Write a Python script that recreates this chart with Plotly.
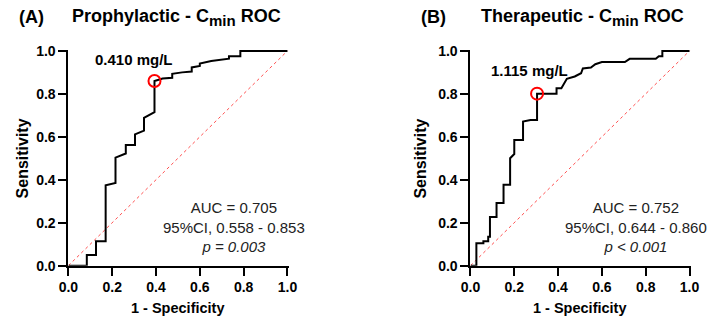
import plotly.graph_objects as go

# ---- data ----
fpr_a = [0, 0.084, 0.084, 0.126, 0.126, 0.17, 0.17, 0.215, 0.215, 0.262, 0.262, 0.304, 0.304,
         0.345, 0.345, 0.393, 0.393, 0.43, 0.474, 0.474, 0.519, 0.563, 0.563, 0.6, 0.6, 0.652,
         0.733, 0.733, 0.785, 0.785, 1.0]
tpr_a = [0, 0, 0.05, 0.05, 0.113, 0.113, 0.374, 0.385, 0.503, 0.522, 0.562, 0.562, 0.611,
         0.629, 0.688, 0.715, 0.86, 0.871, 0.875, 0.893, 0.9, 0.904, 0.923, 0.93, 0.941, 0.953,
         0.964, 0.975, 0.975, 1.0, 1.0]
cut_a = (0.393, 0.86)

fpr_b = [0, 0.027, 0.027, 0.059, 0.059, 0.081, 0.081, 0.089, 0.089, 0.119, 0.119, 0.151, 0.151,
         0.181, 0.181, 0.2, 0.2, 0.24, 0.24, 0.274, 0.304, 0.304, 0.393, 0.393, 0.415, 0.44,
         0.476, 0.505, 0.513, 0.55, 0.57, 0.6, 0.705, 0.727, 0.846, 0.86, 0.876, 0.876, 1.0]
tpr_b = [0, 0, 0.104, 0.104, 0.114, 0.114, 0.134, 0.134, 0.226, 0.226, 0.292, 0.292, 0.377,
         0.377, 0.5, 0.52, 0.585, 0.585, 0.671, 0.678, 0.678, 0.801, 0.801, 0.826, 0.826, 0.87,
         0.881, 0.896, 0.918, 0.923, 0.938, 0.948, 0.948, 0.963, 0.963, 0.975, 0.975, 1.0, 1.0]
cut_b = (0.304, 0.801)

ref_line = [0, 1]
tick_vals = [0, 0.2, 0.4, 0.6, 0.8, 1.0]
tick_text = ["0.0", "0.2", "0.4", "0.6", "0.8", "1.0"]

panels = [
    dict(letter="(A)", title="Prophylactic - C<sub><span style='font-size:15px'>min</span></sub> ROC",
         cutlabel="0.410 mg/L",
         stats="AUC = 0.705<br>95%CI, 0.558 - 0.853<br><i>p = 0.003</i>"),
    dict(letter="(B)", title="Therapeutic - C<sub><span style='font-size:15px'>min</span></sub> ROC",
         cutlabel="1.115 mg/L",
         stats="AUC = 0.752<br>95%CI, 0.644 - 0.860<br><i>p &lt; 0.001</i>"),
]

W, H = 717, 329
FONT = "Liberation Sans, Arial, sans-serif"

fig = go.Figure()

curves = [(fpr_a, tpr_a, cut_a), (fpr_b, tpr_b, cut_b)]
left_px = [60, 473]
scale = 225.0
top_ext = 1.006
bottom_px = 271

for i, (fx, ty, cut) in enumerate(curves):
    xa = "x" if i == 0 else "x2"
    ya = "y" if i == 0 else "y2"
    fig.add_trace(go.Scatter(x=ref_line, y=ref_line, mode="lines", xaxis=xa, yaxis=ya,
                             line=dict(color="rgba(255,60,60,0.9)", width=1, dash="dot"),
                             showlegend=False, hoverinfo="skip"))
    fig.add_trace(go.Scatter(x=fx, y=ty, mode="lines", xaxis=xa, yaxis=ya,
                             line=dict(color="black", width=2), showlegend=False))
    fig.add_trace(go.Scatter(x=[cut[0]], y=[cut[1]], mode="markers", xaxis=xa, yaxis=ya,
                             marker=dict(symbol="circle-open", size=12, color="red",
                                         line=dict(color="red", width=2)),
                             showlegend=False, cliponaxis=False))

axis_common = dict(range=[0, top_ext], tickvals=tick_vals, ticktext=tick_text,
                   showline=True, linecolor="black", linewidth=2, ticks="outside",
                   ticklen=8, tickwidth=2, tickcolor="black", showgrid=False, zeroline=False,
                   tickfont=dict(family=FONT, size=14, color="black", weight="bold"),
                   fixedrange=True)

for i in range(2):
    x0 = left_px[i]
    xd = [x0 / W, (x0 + scale * top_ext) / W]
    yd = [(H - bottom_px) / H, (H - bottom_px + scale * top_ext) / H]
    sfx = "" if i == 0 else "2"
    fig.layout["xaxis" + sfx] = dict(axis_common, domain=xd, anchor="y" + sfx)
    fig.layout["yaxis" + sfx] = dict(axis_common, domain=yd, anchor="x" + sfx)

ann = []
centers = [(60 + 285) / 2, (473 + 698) / 2]
for i, p in enumerate(panels):
    xr = "x" if i == 0 else "x2"
    yr = "y" if i == 0 else "y2"
    cx = centers[i]
    # panel letter
    ann.append(dict(text="<b>" + p["letter"] + "</b>", x=(22.5 if i == 0 else 435.5) / W,
                    y=1 - 10 / H, xref="paper", yref="paper", showarrow=False,
                    xanchor="center", yanchor="middle",
                    font=dict(family=FONT, size=18, color="black")))
    # title
    ann.append(dict(text="<b>" + p["title"] + "</b>", x=(171.5 if i == 0 else 588.5) / W,
                    y=1 - 11 / H, xref="paper", yref="paper", showarrow=False,
                    xanchor="center", yanchor="middle",
                    font=dict(family=FONT, size=18, color="black")))
    # cutoff label
    lab_xy = [(0.298, 0.96), (0.271, 0.907)][i]
    ann.append(dict(text="<b>" + p["cutlabel"] + "</b>", x=lab_xy[0], y=lab_xy[1],
                    xref=xr, yref=yr, showarrow=False, xanchor="center", yanchor="middle",
                    font=dict(family=FONT, size=15, color="black")))
    # stats
    ann.append(dict(text=p["stats"], x=0.756, y=0.182, xref=xr, yref=yr, showarrow=False,
                    xanchor="center", yanchor="middle", align="center",
                    font=dict(family=FONT, size=15, color="#222222")))
    # axis titles
    ann.append(dict(text="<b>1 - Specificity</b>", x=cx / W, y=1 - 315 / H,
                    xref="paper", yref="paper", showarrow=False,
                    xanchor="center", yanchor="middle",
                    font=dict(family=FONT, size=14.5, color="black")))
    ann.append(dict(text="<b>Sensitivity</b>", x=(12.5 if i == 0 else 421.5) / W,
                    y=1 - 158.5 / H, xref="paper", yref="paper", showarrow=False,
                    textangle=-90, xanchor="center", yanchor="middle",
                    font=dict(family=FONT, size=16, color="black")))

fig.update_layout(width=W, height=H, margin=dict(l=0, r=0, t=0, b=0),
                  paper_bgcolor="white", plot_bgcolor="white", annotations=ann,
                  showlegend=False)

fig.write_html("out.html", config={"displayModeBar": False})
